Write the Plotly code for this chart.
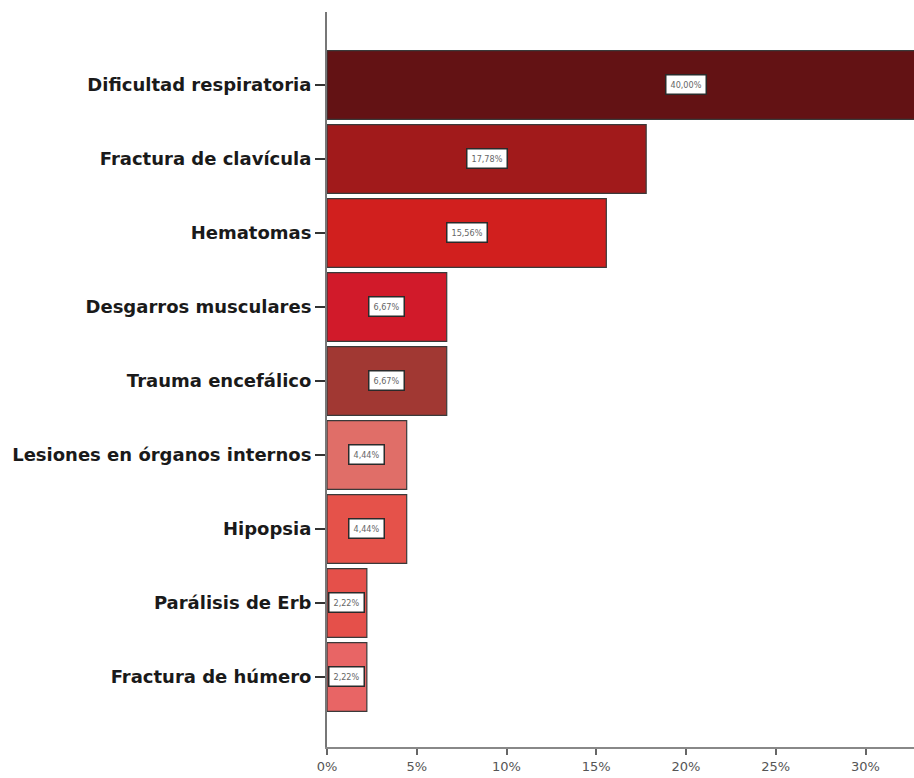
import plotly.graph_objects as go

# Complicaciones neonatales (porcentaje de casos)
categorias = [
    "Dificultad respiratoria",
    "Fractura de clavícula",
    "Hematomas",
    "Desgarros musculares",
    "Trauma encefálico",
    "Lesiones en órganos internos",
    "Hipopsia",
    "Parálisis de Erb",
    "Fractura de húmero",
]
porcentajes = [40.00, 17.78, 15.56, 6.67, 6.67, 4.44, 4.44, 2.22, 2.22]
colores = [
    "#631214", "#a11a1b", "#d11f1e", "#d11a2a", "#a13833",
    "#e06e68", "#e5524a", "#e5504a", "#e86565",
]
ticks_x = [0, 5, 10, 15, 20, 25, 30]

fig = go.Figure()
fig.add_trace(go.Bar(
    x=porcentajes,
    y=categorias,
    orientation="h",
    marker=dict(color=colores, line=dict(color="#3a3a3a", width=1.2)),
    hoverinfo="skip",
))

# Etiquetas de valor en cajas blancas, centradas en cada barra
for cat, val in zip(categorias, porcentajes):
    fig.add_annotation(
        x=val / 2, y=cat,
        text=f"{val:.2f}%".replace(".", ","),
        showarrow=False,
        font=dict(family="DejaVu Sans Condensed", size=9, color="#666666"),
        bgcolor="white",
        bordercolor="#2a2a2a",
        borderwidth=1.5,
        borderpad=4,
    )

fig.update_layout(
    width=914, height=778,
    margin=dict(l=327, r=0, t=12, b=31),
    paper_bgcolor="white",
    plot_bgcolor="white",
    showlegend=False,
    bargap=0.07,
    xaxis=dict(
        range=[0, 32.7],
        tickvals=ticks_x,
        ticktext=[f"{t}%" for t in ticks_x],
        showgrid=False,
        zeroline=False,
        showline=True, linecolor="#888888", linewidth=2,
        ticks="outside", ticklen=6, tickwidth=2, tickcolor="#666666",
        tickfont=dict(family="DejaVu Sans", size=13, color="#555555"),
    ),
    yaxis=dict(
        categoryorder="array", categoryarray=categorias,
        range=[8.946, -0.986],
        showgrid=False,
        zeroline=False,
        showline=True, linecolor="#777777", linewidth=2,
        ticks="outside", ticklen=10, tickwidth=2, tickcolor="#333333",
        tickfont=dict(family="DejaVu Sans", size=18, color="#1a1a1a", weight="bold"),
    ),
)

fig.write_html("out.html")
